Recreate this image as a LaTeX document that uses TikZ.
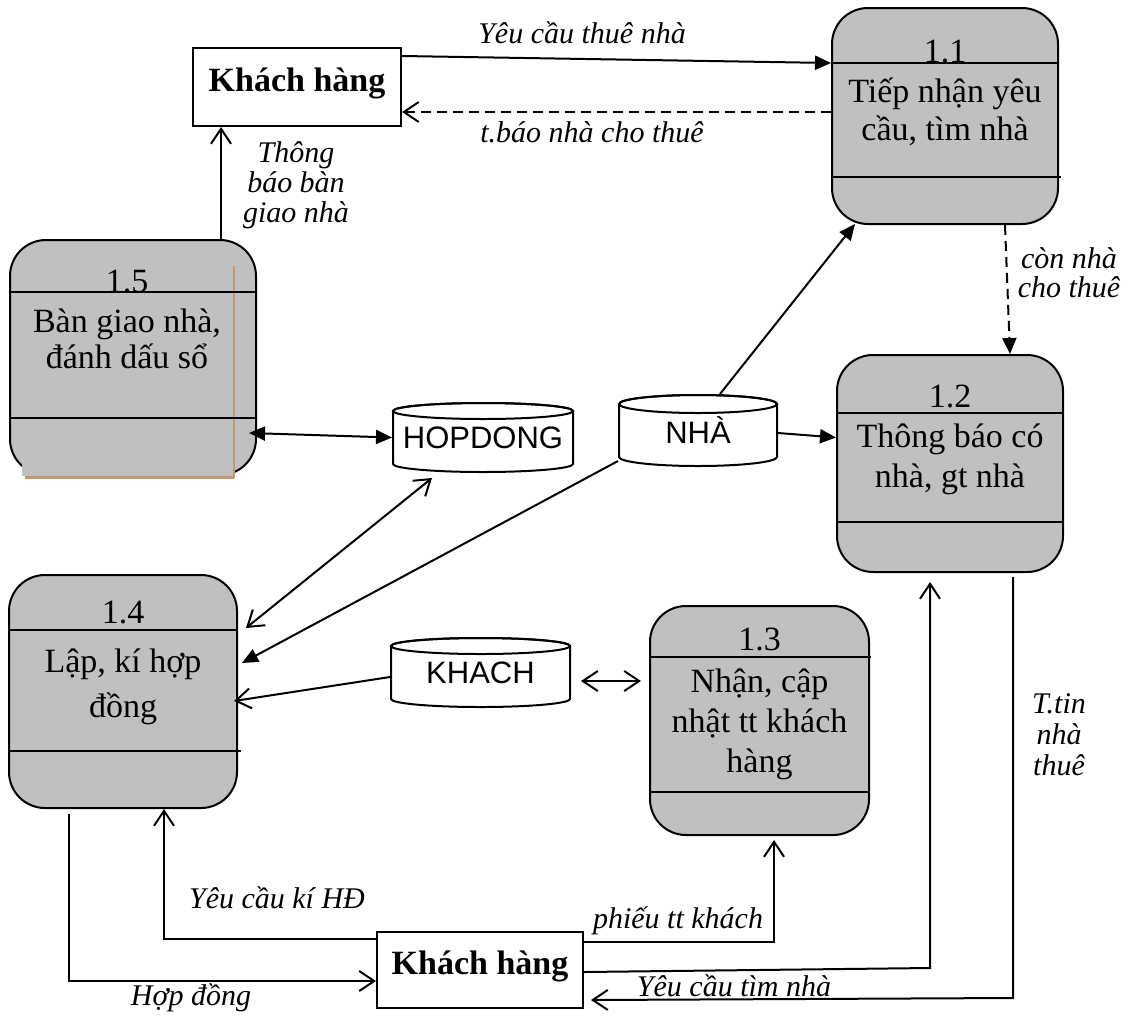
\documentclass[tikz,border=0pt]{standalone}
\usepackage{fontspec}
\setmainfont{Liberation Serif}
\newfontfamily\storefont{Liberation Sans}
\usetikzlibrary{arrows.meta}
\definecolor{procgray}{RGB}{192,192,192}
\definecolor{smear}{RGB}{196,152,118}
% centred multi-line text whose base is the first line's baseline
\newcommand\stack[1]{\begin{tabular}[t]{@{}c@{}}#1\end{tabular}}

\begin{document}
\begin{tikzpicture}[x=1pt,y=-1pt,line width=2pt,
  proc/.style={draw, fill=procgray, rounded corners=36pt, inner sep=0pt, line width=2pt},
  entity/.style={draw, fill=white, inner sep=0pt, text height=23pt, text depth=15pt,
                 font=\fontsize{34}{38}\selectfont\bfseries},
  store/.style={inner sep=0pt, font=\storefont\fontsize{31}{31}\selectfont},
  pnum/.style={anchor=base, inner sep=0pt, font=\fontsize{34}{38}\selectfont},
  ptext/.style={anchor=base, inner sep=0pt},
  flow/.style={anchor=base, inner sep=0pt, font=\fontsize{30}{30}\selectfont\itshape},
  fa/.style={-{Triangle[length=16pt,width=14pt]}},
  oa/.style={-{Straight Barb[length=15pt,width=20pt]}},
  dashflow/.style={dash pattern=on 10pt off 6pt}
]
\useasboundingbox (0,0) rectangle (1129,1015);

% ---------- processes ----------
\node[proc, minimum width=226pt, minimum height=216pt] (p11) at (945,116) {};
\draw (832,63) -- (1058,63);
\draw (832,177) -- (1061,177);
\node[pnum] (n11) at (945,62) {1.1};
\node[ptext, font=\fontsize{34}{38}\selectfont] (t11) at (945,102) {\stack{Tiếp nhận yêu\\cầu, tìm nhà}};

\node[proc, minimum width=226pt, minimum height=217pt] (p12) at (950,463.5) {};
\draw (837,413) -- (1063,413);
\draw (837,522) -- (1063,522);
\node[pnum] (n12) at (950,407) {1.2};
\node[ptext, font=\fontsize{34}{40}\selectfont] (t12) at (950,447) {\stack{Thông báo có\\nhà, gt nhà}};

\node[proc, minimum width=219pt, minimum height=229pt] (p13) at (759.5,720.5) {};
\draw (650,657) -- (871,657);
\draw (650,792) -- (869,792);
\node[pnum] (n13) at (759.5,650) {1.3};
\node[ptext, font=\fontsize{34}{40}\selectfont] (t13) at (759.5,692) {\stack{Nhận, cập\\nhật tt khách\\hàng}};

\node[proc, minimum width=228pt, minimum height=233pt] (p14) at (123,691.5) {};
\draw (9,630) -- (237,630);
\draw (9,751) -- (241,751);
\node[pnum] (n14) at (123,623) {1.4};
\node[ptext, font=\fontsize{34}{45}\selectfont] (t14) at (123,672) {\stack{Lập, kí hợp\\đồng}};

\node[proc, minimum width=246pt, minimum height=235pt] (p15) at (133,357.5) {};
\fill[procgray] (22,420) rectangle (234,475.5);
\draw[smear, line width=3pt] (25,477) -- (234,477);
\draw[smear, line width=2.5pt] (234,266) -- (234,478);
\draw (10,292) -- (256,292);
\draw (10,418) -- (256,418);
\node[pnum] (n15) at (127,292) {1.5};
\node[ptext, font=\fontsize{34}{36}\selectfont] (t15) at (127,332) {\stack{Bàn giao nhà,\\đánh dấu sổ}};

% ---------- data stores ----------
\path[draw, fill=white] (393,411) -- (393,464) arc[start angle=180, end angle=0, x radius=90, y radius=8]
  -- (573,411) arc[start angle=0, end angle=-180, x radius=90, y radius=8] -- cycle;
\draw (483,411) ellipse[x radius=90, y radius=8];
\node[store, minimum width=180pt, minimum height=69pt] (hop) at (483,437.5) {HOPDONG};

\path[draw, fill=white] (619,404) -- (619,457) arc[start angle=180, end angle=0, x radius=79, y radius=9]
  -- (777,404) arc[start angle=0, end angle=-180, x radius=79, y radius=9] -- cycle;
\draw (698,404) ellipse[x radius=79, y radius=9];
\node[store, minimum width=158pt, minimum height=71pt] (nha) at (698,430.5) {NHÀ};

\path[draw, fill=white] (391,646) -- (391,699) arc[start angle=180, end angle=0, x radius=89.5, y radius=8]
  -- (570,646) arc[start angle=0, end angle=-180, x radius=89.5, y radius=8] -- cycle;
\draw (480.5,646) ellipse[x radius=89.5, y radius=8];
\node[store, minimum width=179pt, minimum height=69pt] (kha) at (480.5,672.5) {KHACH};

% ---------- external entities ----------
\node[entity, minimum width=208pt, minimum height=78pt] (kh1) at (297,87) {Khách hàng};
\node[entity, minimum width=206pt, minimum height=76pt] (kh2) at (480,970) {Khách hàng};

% ---------- flows ----------
\draw[fa] ([yshift=-9pt]kh1.north east) -- ([yshift=-56pt]p11.north west);
\node[flow] (l1) at (582,43) {Yêu cầu thuê nhà};

\draw[oa, dashflow] ([yshift=-105pt]p11.north west) -- ([yshift=-65pt]kh1.north east);
\node[flow] (l2) at (592,142) {t.báo nhà cho thuê};

\draw[oa] ([xshift=88pt]p15.north) -- ([xshift=-76pt]kh1.south);
\node[flow] (l3) at (296,162) {\stack{Thông\\báo bàn\\giao nhà}};

\draw[fa] ([xshift=22pt]nha.north) -- ([xshift=24pt,yshift=1pt]p11.south west);

\draw[fa, dashflow] ([xshift=60pt]p11.south) -- ([xshift=60pt]p12.north);
\node[flow, font=\fontsize{30}{28}\selectfont\itshape] (l4) at (1069,268) {\stack{còn nhà\\cho thuê}};

\draw[fa] ([yshift=-2.5pt]nha.east) -- ([yshift=26pt]p12.west);

\draw[{Triangle[length=16pt,width=14pt]}-{Triangle[length=16pt,width=14pt]}]
  ([xshift=-8pt,yshift=43pt]p15.south east) -- (hop.west);

\draw[{Straight Barb[length=15pt,width=20pt]}-{Straight Barb[length=15pt,width=20pt]}]
  ([xshift=-51pt,yshift=-5pt]hop.south) -- ([xshift=8pt,yshift=-54pt]p14.north east);

\draw[fa] ([yshift=6pt]nha.south west) -- ([xshift=4pt,yshift=28.5pt]p14.east);

\draw[oa] ([yshift=-4.5pt]kha.west) -- ([xshift=-4pt,yshift=-9.5pt]p14.east);

\draw[{Straight Barb[length=15pt,width=20pt]}-{Straight Barb[length=15pt,width=20pt]}]
  ([xshift=10pt,yshift=-8.5pt]kha.east) -- ([xshift=-8pt,yshift=39.5pt]p13.west);

\draw[oa] ([xshift=-54pt,yshift=-5pt]p14.south) |- ([yshift=-11pt]kh2.west);
\node[flow] (l5) at (191,1005) {Hợp đồng};

\draw[oa] ([yshift=31pt]kh2.west) -| ([xshift=41pt]p14.south);
\node[flow] (l6) at (277,908) {Yêu cầu kí HĐ};

\draw[oa] ([yshift=28pt]kh2.east) -| ([xshift=14.5pt,yshift=-4pt]p13.south);
\node[flow] (l7) at (678,928) {phiếu tt khách};

\draw[oa] ([yshift=-2pt]kh2.east) -- ([xshift=-20pt,yshift=-395pt]p12.south)
  -- ([xshift=-20pt,yshift=-9pt]p12.south);

\draw[oa] ([xshift=63pt,yshift=-4pt]p12.south) -- ([xshift=63pt,yshift=-425pt]p12.south)
  -- ([xshift=7pt,yshift=-30pt]kh2.east);
\node[flow] (l8) at (734,996) {Yêu cầu tìm nhà};
\node[flow, font=\fontsize{30}{31}\selectfont\itshape] (l9) at (1059,713) {\stack{T.tin\\nhà\\thuê}};

\end{tikzpicture}
\end{document}
